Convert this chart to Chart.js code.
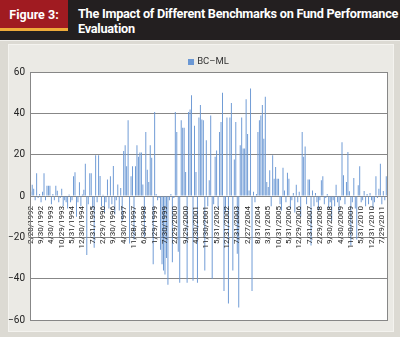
<!DOCTYPE html>
<html>
<head>
<meta charset="utf-8">
<script src="https://cdn.jsdelivr.net/npm/chart.js@4"></script>
<style>
  html, body { margin: 0; padding: 0; }
  body { width: 400px; height: 337px; background: #dcdad3; position: relative; overflow: hidden; font-family: Roboto, "Open Sans", sans-serif; }
  #head { position: absolute; left: 0; top: 0; width: 400px; height: 40px; background: #231f20; border-bottom: 1px solid #f1f0ec; }
  #fig { position: absolute; left: 0; top: 0; width: 68px; height: 28px; background: #a01b21; color: #fff; font-weight: bold; font-size: 12.5px; line-height: 30px; text-align: center; }
  #stripe { position: absolute; left: 0; top: 28px; width: 68px; height: 3px; background: #eeaa3a; }
  #title { position: absolute; left: 78px; top: 6px; color: #fff; font-weight: bold; font-size: 12.7px; line-height: 15px; letter-spacing: -0.25px; white-space: nowrap; }
  #panel { position: absolute; left: 8px; top: 44px; width: 384px; height: 286px; background: #ebeae5; border: 1px solid #f4f3ef; }
  #chart { position: absolute; left: 0; top: 44px; }
</style>
</head>
<body>
<div id="head">
  <div id="fig">Figure 3:</div>
  <div id="stripe"></div>
  <div id="title">The Impact of Different Benchmarks on Fund Performance<br>Evaluation</div>
</div>
<div id="panel"></div>
<canvas id="chart" width="400" height="289"></canvas>
<script>
// axis labels printed every 7th observation
const tickLabels = [
  '2/28/1992', '9/30/1992', '4/30/1993', '10/29/1993', '5/31/1994', '12/30/1994',
  '7/31/1995', '2/29/1996', '9/30/1996', '4/30/1997', '11/28/1997', '6/30/1998',
  '1/29/1999', '7/30/1999', '2/29/2000', '9/29/2000', '4/30/2001', '11/30/2001',
  '5/31/2002', '12/31/2002', '7/31/2003', '2/27/2004', '8/31/2004', '3/31/2005',
  '10/31/2005', '5/31/2006', '12/29/2006', '7/31/2007', '2/29/2008', '9/30/2008',
  '4/30/2009', '11/30/2009', '5/31/2010', '12/31/2010', '7/29/2011'
];
const labelStep = 7;

// BC minus ML, one value per observation
const bcMl = [
  2, 5.5, 3.5, -2, 11, -1, 1, -3, 2, 11,
  -2, 5, 5, 5, -4, 1, -2, 5, 2.5, -3,
  -1, 3.5, -5, -2, -3, -6, 0.7, -3, -2, 9.5,
  11.5, -10, -3, 6.6, -5, 0.7, 3, 15.6, -28.6, -4,
  11, 11, -6, -25, 19.7, -3, 19.7, 9.7, -5, 0.6,
  -8, -3, 8, -6, 9.5, -4, 14.5, -9, -2, 5.6,
  -7, 3.9, -12, 21.8, 24.5, 14.4, 36.6, -23, 9.5, 14.4,
  -21, 14.4, 24.5, 19, 21, 21, 5.6, -20, 31, 12.7,
  6.8, 24.5, 18.5, -33, 40.6, 1, -2, -1, -26, -33,
  -36, -38, -30, -43, -2, 1, -32, -1, 40.6, 31,
  -27, -42, 36.6, 33, 33, 11.6, -42, 40.6, 41.8, 48.7,
  -41, 34, 11.6, -42, 38, 44, 37, 36.6, -36, 27,
  -5, 7.6, 39, -40, -4, 19, 22, -6, 31, 35.8,
  50, -46, -8, 38, -52, 38, 45, -36, 17.7, 35.8,
  -28, -54, 24.5, 38, 23, 23, 46.8, 30, 2.7, 52,
  -46, 2, -3, 1, 31, 36.6, 39, 44, 27.7, 48,
  6.8, 4.4, 12.4, -5, 19.7, 8.4, 14, 8.4, 8.4, -4,
  -7, 13.7, 2.7, -3, 11.3, 8.4, -6, -2, 1.5, -8,
  5.5, -3, 2, -10, 31, 19, 24, -4, 8, 8,
  -24, 2.7, -5, 1.5, -3, -7, -2, 7.6, 9.5, -4,
  -1, 1, -6, -3, -12, -2, -5, 5.5, -3, -8,
  -2, 26, 10, -4, 6.8, 21.3, 2.3, -24, -3, 8.7,
  -6, -21, 5.2, 14.4, -3, -2, 2.4, -5, 1, -4,
  1.5, -2, -6, -3, 9.5, -1, 3.5, 15.6, -4, 2.4,
  -2, 9.5
];

const categories = bcMl.map((v, i) => (i % labelStep === 0 ? tickLabels[i / labelStep] || '' : ''));

const axisGrey = '#878787';
const barBlue = '#6b98d4';

// white plot background, grey box around it, and the key centred over the plot
const plotFrame = {
  id: 'plotFrame',
  beforeDraw(chart) {
    const { ctx, chartArea: a } = chart;
    ctx.save();
    ctx.fillStyle = '#ffffff';
    ctx.fillRect(a.left, a.top, a.right - a.left, a.bottom - a.top);
    ctx.restore();
  },
  afterDraw(chart) {
    const { ctx, chartArea: a } = chart;
    ctx.save();
    ctx.strokeStyle = axisGrey;
    ctx.lineWidth = 1;
    ctx.strokeRect(Math.round(a.left) + 0.5, Math.round(a.top) + 0.5, Math.round(a.right - a.left), Math.round(a.bottom - a.top));

    const ds = chart.data.datasets[0];
    ctx.font = '9.5px Roboto';
    const textW = ctx.measureText(ds.label).width;
    const x0 = (a.left + a.right) / 2 - (textW + 9) / 2;
    const yMid = a.top - 10;
    ctx.fillStyle = ds.backgroundColor;
    ctx.fillRect(Math.round(x0), Math.round(yMid - 3), 6, 6);
    ctx.fillStyle = '#333';
    ctx.textBaseline = 'middle';
    ctx.fillText(ds.label, x0 + 9, yMid);
    ctx.restore();
  }
};

new Chart(document.getElementById('chart'), {
  type: 'bar',
  data: {
    labels: categories,
    datasets: [{
      label: 'BC–ML',
      data: bcMl,
      backgroundColor: barBlue,
      borderWidth: 0,
      barPercentage: 1,
      categoryPercentage: 0.65
    }]
  },
  options: {
    responsive: false,
    animation: false,
    layout: { padding: { top: 28, right: 13, bottom: 13, left: 0 } },
    plugins: {
      legend: { display: false },
      tooltip: { enabled: false }
    },
    scales: {
      x: {
        position: { y: 0 },
        grid: { display: false },
        border: { color: axisGrey },
        ticks: {
          autoSkip: false,
          minRotation: 90,
          maxRotation: 90,
          padding: 2,
          z: 1,
          color: '#222',
          font: { size: 8, family: '"Liberation Sans Narrow", Roboto' }
        }
      },
      y: {
        min: -60,
        max: 60,
        grid: { color: axisGrey, drawTicks: false },
        border: { color: axisGrey },
        ticks: {
          stepSize: 20,
          padding: 5,
          color: '#222',
          font: { size: 10, family: 'Roboto' },
          callback: v => String(v).replace('-', '\u2212')
        },
        afterFit: s => { s.width = 30; }
      }
    }
  },
  plugins: [plotFrame]
});
</script>
</body>
</html>
